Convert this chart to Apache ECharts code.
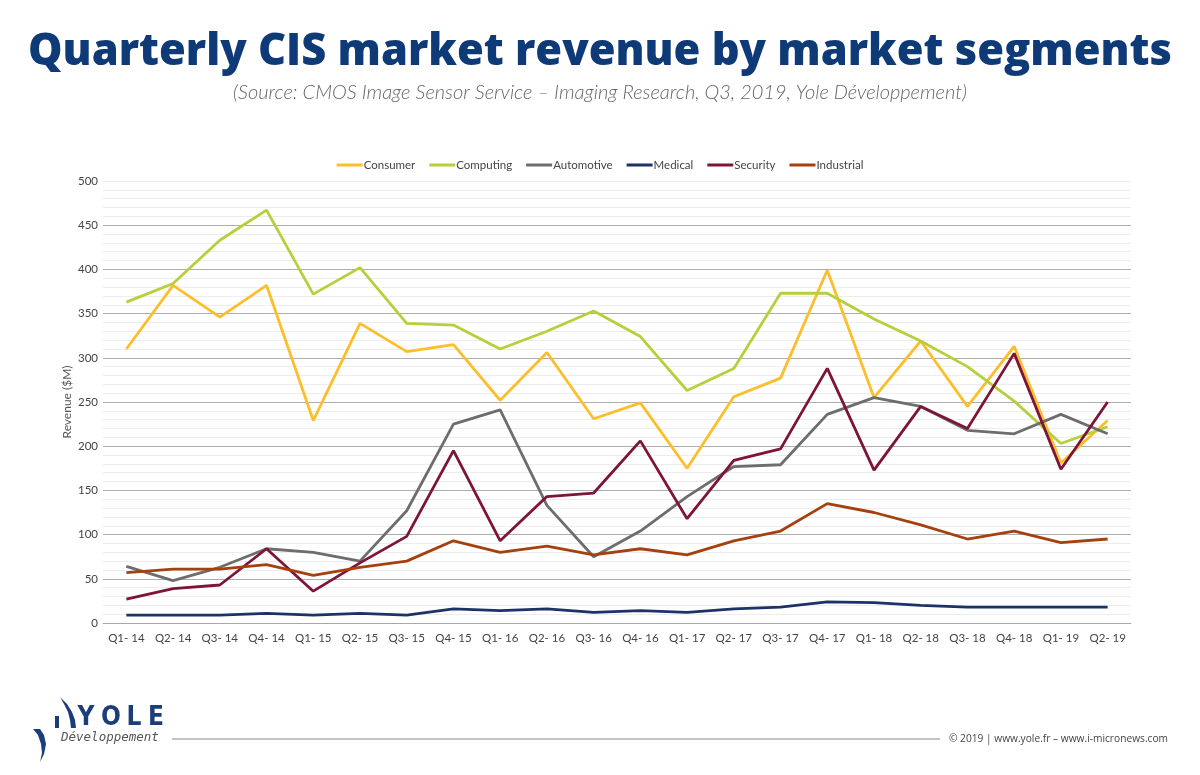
<!DOCTYPE html>
<html>
<head>
<meta charset="utf-8">
<script src="https://cdn.jsdelivr.net/npm/echarts@6/dist/echarts.min.js"></script>
<style>html,body{margin:0;padding:0;background:#fff;}#c{width:1200px;height:775px;}</style>
</head>
<body>
<div id="c"></div>
<script>
const categories = ['Q1- 14','Q2- 14','Q3- 14','Q4- 14','Q1- 15','Q2- 15','Q3- 15','Q4- 15','Q1- 16','Q2- 16','Q3- 16','Q4- 16','Q1- 17','Q2- 17','Q3- 17','Q4- 17','Q1- 18','Q2- 18','Q3- 18','Q4- 18','Q1- 19','Q2- 19'];
const consumer   = [310,382,346,382,229,339,307,315,252,306,231,249,175,256,277,399,255,319,245,313,181,229];
const computing  = [363,384,433,467,372,402,339,337,310,330,353,324,263,288,373,373,344,319,290,251,203,222];
const automotive = [64,48,63,84,80,70,127,225,241,133,75,104,143,177,179,236,255,245,218,214,236,214];
const medical    = [9,9,9,11,9,11,9,16,14,16,12,14,12,16,18,24,23,20,18,18,18,18];
const security   = [27,39,43,84,36,68,98,195,93,143,147,206,118,184,197,288,173,245,220,305,174,250];
const industrial = [57,61,61,66,54,63,70,93,80,87,77,84,77,93,104,135,125,111,95,104,91,95];
const yTicks = [0,50,100,150,200,250,300,350,400,450,500];

const seriesDefs = [
  ['Consumer', consumer, '#FDBE2C'],
  ['Computing', computing, '#B5D03A'],
  ['Automotive', automotive, '#6D6D6D'],
  ['Medical', medical, '#1B3366'],
  ['Security', security, '#7E1437'],
  ['Industrial', industrial, '#A4410F']
];

const chart = echarts.init(document.getElementById('c'));
const majorColors = yTicks.map((t, i) => i === yTicks.length - 1 ? '#ECECEC' : '#ADADAD');
const logoBlue = '#1B3D7C';
const logoFont = 'bold 26px "DejaVu Sans Condensed", "Liberation Sans Narrow", sans-serif';

chart.setOption({
  backgroundColor: '#ffffff',
  animation: false,
  textStyle: { fontFamily: 'Lato, "Open Sans", sans-serif' },
  title: [{
    text: 'Quarterly CIS market revenue by market segments',
    left: 'center', top: 26,
    textStyle: { fontFamily: '"Open Sans"', fontWeight: 800, fontSize: 43.4, color: '#0F3A78' }
  }, {
    text: '(Source: CMOS Image Sensor Service – Imaging Research, Q3, 2019, Yole Développement)',
    left: 'center', top: 78,
    textStyle: { fontFamily: 'Lato', fontStyle: 'italic', fontWeight: 300, fontSize: 20, color: '#666' }
  }],
  legend: {
    top: 154, left: 'center',
    itemWidth: 26, itemHeight: 3, itemGap: 14,
    icon: 'rect',
    textStyle: { fontSize: 11.5, color: '#444', padding: [0,0,0,-4] },
    data: seriesDefs.map(s => s[0])
  },
  grid: { left: 103, right: 69, top: 181, bottom: 152, containLabel: false },
  xAxis: {
    type: 'category', data: categories, boundaryGap: true,
    axisLine: { show: true, lineStyle: { color: '#A8A8A8', width: 1 } },
    axisTick: { show: false },
    axisLabel: { color: '#444', fontSize: 11.5, margin: 9, interval: 0 }
  },
  yAxis: {
    type: 'value', min: 0, max: 500, interval: 50,
    name: 'Revenue ($M)', nameLocation: 'middle', nameGap: 30, nameRotate: 90,
    nameMoveOverlap: false,
    nameTextStyle: { color: '#555', fontSize: 12 },
    axisLine: { show: false }, axisTick: { show: false },
    axisLabel: { color: '#444', fontSize: 11.5, margin: 5 },
    splitLine: { show: true, lineStyle: { color: majorColors, width: 1 } },
    minorTick: { show: false, splitNumber: 5 },
    minorSplitLine: { show: true, lineStyle: { color: '#EDEDED', width: 1 } }
  },
  series: seriesDefs.map(s => ({
    name: s[0], type: 'line', data: s[1], showSymbol: false, symbol: 'none',
    lineStyle: { color: s[2], width: 2.8 }, itemStyle: { color: s[2] }
  })),
  graphic: [
    { type: 'line', shape: { x1: 172, y1: 739, x2: 940, y2: 739 }, style: { stroke: '#8A8A8A', lineWidth: 1 } },
    { type: 'text', x: 1168, y: 739, style: { text: '© 2019 | www.yole.fr – www.i-micronews.com', fill: '#444', font: '10.2px "Open Sans", sans-serif', textAlign: 'right', textVerticalAlign: 'middle' } },
    { type: 'text', x: 86, y: 718, style: { text: 'Y', fill: logoBlue, font: logoFont, textAlign: 'center', textVerticalAlign: 'middle' } },
    { type: 'text', x: 111, y: 718, style: { text: 'O', fill: logoBlue, font: logoFont, textAlign: 'center', textVerticalAlign: 'middle' } },
    { type: 'text', x: 134, y: 718, style: { text: 'L', fill: logoBlue, font: logoFont, textAlign: 'center', textVerticalAlign: 'middle' } },
    { type: 'text', x: 156, y: 718, style: { text: 'E', fill: logoBlue, font: logoFont, textAlign: 'center', textVerticalAlign: 'middle' } },
    { type: 'text', x: 61, y: 738, style: { text: 'Développement', fill: '#555', font: 'italic 12.5px "DejaVu Sans Mono", monospace', textVerticalAlign: 'middle' } },
    { type: 'polygon', shape: { points: [[33,729],[38,735],[41,744],[42,753],[40,762],[44,754],[46,744],[44,735],[40,729]] }, style: { fill: logoBlue } },
    { type: 'polygon', shape: { points: [[60,697],[67,704],[72,712],[75,720],[76,728],[71,728],[70,720],[68,712],[64,704]] }, style: { fill: logoBlue } },
    { type: 'rect', shape: { x: 55, y: 716, width: 4, height: 12 }, style: { fill: logoBlue } }
  ]
});
</script>
</body>
</html>
